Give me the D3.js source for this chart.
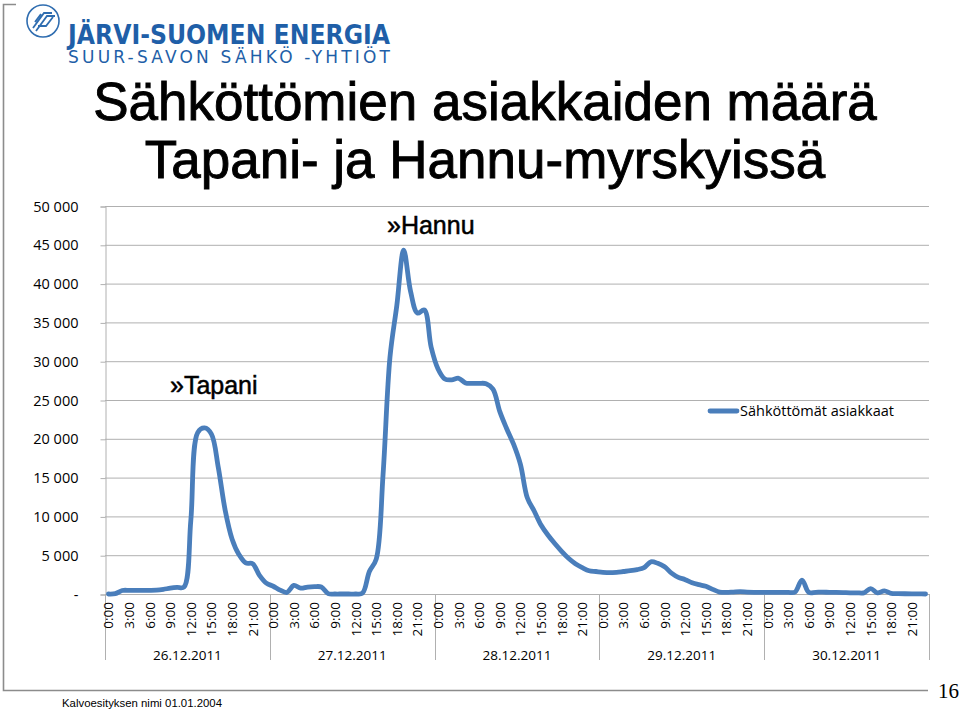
<!DOCTYPE html>
<html>
<head>
<meta charset="utf-8">
<script src="https://cdn.jsdelivr.net/npm/d3@7"></script>
<style>
  html, body { margin: 0; padding: 0; background: #fff; }
  svg { display: block; }
</style>
</head>
<body>
<svg id="chart" width="960" height="709"></svg>
<script>
// ---------- data ----------
const dates = ["26.12.2011", "27.12.2011", "28.12.2011", "29.12.2011", "30.12.2011"];
const hourLabels = ["0:00", "3:00", "6:00", "9:00", "12:00", "15:00", "18:00", "21:00"];
const yTickValues = [0, 5000, 10000, 15000, 20000, 25000, 30000, 35000, 40000, 45000, 50000];
const yTickLabels = ["-", "5 000", "10 000", "15 000", "20 000", "25 000", "30 000", "35 000", "40 000", "45 000", "50 000"];
const seriesName = "Sähköttömät asiakkaat";
// hourly values, 26.12 0:00 ... 30.12 23:00
const day26 = [0, 50, 450, 470, 460, 460, 470, 500, 600, 750, 850, 900,
               9500, 20800, 21400, 20600, 16300, 10800, 7100, 5100, 4000, 3900, 2400, 1400];
const day27 = [1000, 500, 200, 1100, 750, 900, 950, 900, 50, 0, 0, 0,
               0, 100, 2900, 4500, 15500, 30500, 37200, 44300, 39000, 36200, 36600, 31800];
const day28 = [29000, 27700, 27600, 27800, 27200, 27150, 27150, 27100, 26400, 23500, 21300, 19300,
               16700, 12400, 10700, 8900, 7600, 6500, 5500, 4600, 3900, 3400, 3000, 2900];
const day29 = [2800, 2750, 2800, 2900, 3000, 3150, 3400, 4150, 3950, 3500, 2700, 2150,
               1850, 1450, 1200, 1000, 600, 250, 200, 250, 300, 250, 220, 200];
const day30 = [200, 200, 200, 200, 250, 1800, 200, 220, 250, 200, 200, 180,
               150, 150, 150, 700, 150, 400, 80, 50, 30, 20, 10, 0];
const customers = [...day26, ...day27, ...day28, ...day29, ...day30];
const titleLines = ["Sähköttömien asiakkaiden määrä", "Tapani- ja Hannu-myrskyissä"];

// ---------- drawing ----------
const svg = d3.select("#chart");
const plotLeft = 105, plotRight = 929, plotTop = 206, plotBottom = 594;
const blue = "#4A7EBB";
const gridColor = "#B0B0B0";
const labelFont = "'Open Sans', sans-serif";

// slide frame
svg.append("path")
  .attr("d", "M16,4.5 H3.5 V690.5 H928")
  .attr("fill", "none").attr("stroke", "#8C8C8C").attr("stroke-width", 1.6);

// logo
const logo = svg.append("g");
logo.append("circle").attr("cx", 43).attr("cy", 21).attr("r", 16)
  .attr("fill", "none").attr("stroke", "#2F6DB0").attr("stroke-width", 1.6);
logo.append("path")
  .attr("d", "M33,28 L44,13 L52,13 M36,31 L47,16 L55,16 M38,26 L46,26 L53,17 M35,22 L41,14")
  .attr("fill", "none").attr("stroke", "#2F6DB0").attr("stroke-width", 1.8);
logo.append("text").attr("x", 68).attr("y", 44)
  .attr("font-family", "'DejaVu Sans Condensed', 'DejaVu Sans', sans-serif")
  .attr("font-weight", "bold").attr("font-size", 27).attr("fill", "#1F5FA8")
  .attr("textLength", 322).attr("lengthAdjust", "spacingAndGlyphs")
  .text("JÄRVI-SUOMEN ENERGIA");
logo.append("text").attr("x", 68).attr("y", 63)
  .attr("font-family", "'DejaVu Sans', sans-serif")
  .attr("font-size", 17).attr("fill", "#1F5FA8")
  .attr("textLength", 322).attr("lengthAdjust", "spacing")
  .text("SUUR-SAVON SÄHKÖ -YHTIÖT");

// title
svg.append("g").selectAll("text").data(titleLines).join("text")
  .attr("x", 485).attr("y", (d, i) => 120 + i * 58)
  .attr("text-anchor", "middle")
  .attr("font-family", "'Liberation Sans', Arial, sans-serif")
  .attr("font-size", 53).attr("fill", "#000")
  .attr("stroke", "#000").attr("stroke-width", 0.9)
  .text(d => d);

// scales
const x = d3.scaleBand().domain(d3.range(customers.length)).range([plotLeft, plotRight]).padding(0);
const xDay = d3.scaleBand().domain(dates).range([plotLeft, plotRight]).padding(0);
const y = d3.scaleLinear().domain([0, 50000]).range([plotBottom, plotTop]);

// gridlines
svg.append("g").selectAll("line").data(yTickValues.filter(v => v > 0)).join("line")
  .attr("x1", plotLeft).attr("x2", plotRight)
  .attr("y1", d => y(d) + 0.5).attr("y2", d => y(d) + 0.5)
  .attr("stroke", gridColor).attr("stroke-width", 1);

// y axis
const yAxis = d3.axisLeft(y).tickValues(yTickValues).tickSize(5).tickPadding(22)
  .tickFormat((d, i) => yTickLabels[i]);
const gy = svg.append("g").attr("transform", `translate(${plotLeft + 0.5},0.5)`).call(yAxis);
gy.select(".domain").attr("stroke", gridColor);
gy.selectAll(".tick line").attr("stroke", gridColor);
gy.selectAll(".tick text").attr("font-family", labelFont)
  .attr("font-size", 14.5).attr("fill", "#000");

// x axis baseline
svg.append("line").attr("x1", plotLeft).attr("x2", plotRight)
  .attr("y1", plotBottom + 0.5).attr("y2", plotBottom + 0.5)
  .attr("stroke", gridColor).attr("stroke-width", 1);

// day separators
const bounds = dates.map(d => xDay(d)).concat([plotRight]);
svg.append("g").selectAll("line").data(bounds).join("line")
  .attr("x1", d => Math.round(d) + 0.5).attr("x2", d => Math.round(d) + 0.5)
  .attr("y1", plotBottom).attr("y2", 660)
  .attr("stroke", gridColor).attr("stroke-width", 1);

// hour labels (every 3 hours)
const hourIdx = d3.range(customers.length).filter(i => i % 3 === 0);
svg.append("g").selectAll("text").data(hourIdx).join("text")
  .attr("transform", i => `translate(${x(i) + x.bandwidth() / 2 + 5},602) rotate(-90)`)
  .attr("text-anchor", "end")
  .attr("font-family", labelFont).attr("font-size", 13.5).attr("fill", "#000")
  .text(i => hourLabels[(i % 24) / 3]);

// date labels
svg.append("g").selectAll("text").data(dates).join("text")
  .attr("x", d => xDay(d) + xDay.bandwidth() / 2).attr("y", 660)
  .attr("text-anchor", "middle")
  .attr("font-family", labelFont).attr("font-size", 13.5).attr("fill", "#000")
  .text(d => d);

// line
const line = d3.line()
  .x((d, i) => x(i) + x.bandwidth() / 2)
  .y(d => y(d))
  .curve(d3.curveCatmullRom.alpha(0.5));
svg.append("path").datum(customers)
  .attr("d", line)
  .attr("fill", "none").attr("stroke", blue).attr("stroke-width", 4.8)
  .attr("stroke-linejoin", "round").attr("stroke-linecap", "round");

// legend
const lg = svg.append("g");
lg.append("line").attr("x1", 710).attr("x2", 737).attr("y1", 411).attr("y2", 411)
  .attr("stroke", blue).attr("stroke-width", 4.8).attr("stroke-linecap", "round");
lg.append("text").attr("x", 740).attr("y", 416)
  .attr("font-family", labelFont).attr("font-size", 14.5).attr("fill", "#000")
  .text(seriesName);

// storm annotations
svg.append("text").attr("x", 387).attr("y", 234)
  .attr("font-family", "'Liberation Sans', Arial, sans-serif").attr("font-size", 25).attr("fill", "#000")
  .attr("stroke", "#000").attr("stroke-width", 0.5)
  .text("»Hannu");
svg.append("text").attr("x", 170).attr("y", 394)
  .attr("font-family", "'Liberation Sans', Arial, sans-serif").attr("font-size", 25).attr("fill", "#000")
  .attr("stroke", "#000").attr("stroke-width", 0.5)
  .text("»Tapani");

// footer
svg.append("text").attr("x", 62).attr("y", 707)
  .attr("font-family", "'Liberation Sans Narrow', 'Liberation Sans', Arial, sans-serif")
  .attr("font-size", 11.5).attr("fill", "#000")
  .attr("textLength", 160).attr("lengthAdjust", "spacingAndGlyphs")
  .text("Kalvoesityksen nimi 01.01.2004");
svg.append("text").attr("x", 938).attr("y", 698)
  .attr("font-family", "'Liberation Serif', 'Times New Roman', serif")
  .attr("font-size", 21).attr("fill", "#000")
  .text("16");
</script>
</body>
</html>
